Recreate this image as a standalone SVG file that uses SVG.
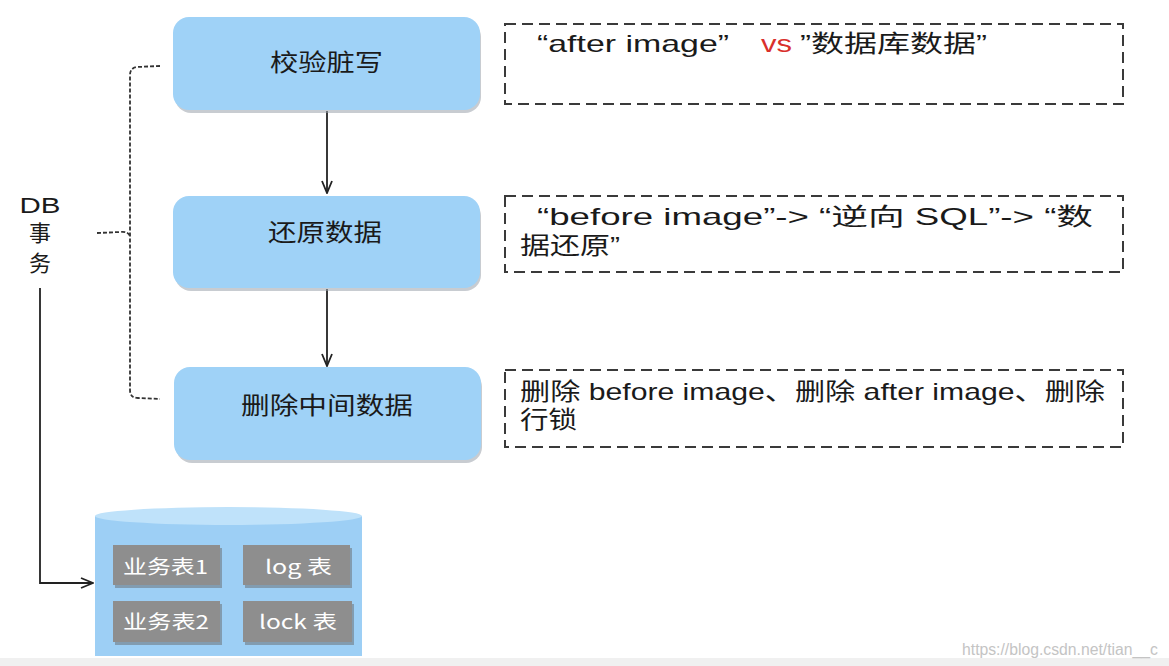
<svg xmlns="http://www.w3.org/2000/svg" width="1169" height="666" viewBox="0 0 1169 666">
<defs>
<style>
.node{fill:#9fd2f7;}
.shadow{fill:#9aa3ab;opacity:0.55;}
.ntext{font-family:"Noto Sans CJK SC","Liberation Sans",sans-serif;font-size:24px;fill:#1a1a1a;text-anchor:start;}
.note{fill:none;stroke:#3a3a3a;stroke-width:2;stroke-dasharray:11 6;}
.ttext{font-family:"Liberation Sans","Noto Sans CJK SC",sans-serif;font-size:24px;fill:#1a1a1a;}
.conn{fill:none;stroke:#222;stroke-width:1.8;}
.dash{fill:none;stroke:#333;stroke-width:1.8;stroke-dasharray:4 2;}
.tbl{fill:#8e8e8e;}
.tshadow{fill:#6f7a82;opacity:0.6;}
.wtext{font-family:"Noto Sans CJK SC","Liberation Sans",sans-serif;font-size:19px;fill:#ffffff;}
</style>
<marker id="arr" viewBox="0 0 14 12" refX="13" refY="6" markerWidth="14" markerHeight="12" markerUnits="userSpaceOnUse" orient="auto">
<path d="M1,1 L13,6 L1,11" fill="none" stroke="#222" stroke-width="1.8"/>
</marker>
</defs>
<rect x="0" y="0" width="1169" height="666" fill="#ffffff"/>
<rect x="0" y="658" width="1169" height="8" fill="#f0f0f0"/>

<g id="connectors">
<line class="conn" x1="327" y1="111" x2="327" y2="193" marker-end="url(#arr)"/>
<line class="conn" x1="327" y1="289" x2="327" y2="366" marker-end="url(#arr)"/>
<path class="conn" d="M40,288 L40,583 L93,583" marker-end="url(#arr)"/>
<path class="dash" d="M160,66 L137,67 Q130,68 130,75 L130,390 Q130,398 138,398 L160,399"/>
<path class="dash" d="M97,233 L120,232 Q128,231 130,236"/>
</g>

<g id="db-label">
<text x="40" y="213" font-family="Liberation Sans,sans-serif" font-size="22" fill="#1a1a1a" text-anchor="middle" textLength="41" lengthAdjust="spacingAndGlyphs">DB</text>
<text x="40" y="241" font-family="Noto Sans CJK SC,sans-serif" font-size="22" fill="#1a1a1a" text-anchor="middle">事</text>
<text x="40" y="271" font-family="Noto Sans CJK SC,sans-serif" font-size="22" fill="#1a1a1a" text-anchor="middle">务</text>
</g>

<g id="node-check">
<rect class="shadow" x="175" y="21" width="306" height="92" rx="16"/>
<rect class="node" x="173" y="17" width="307" height="93" rx="16"/>
<text class="ntext" x="270" y="71" textLength="113" lengthAdjust="spacingAndGlyphs">校验脏写</text>
</g>
<g id="node-restore">
<rect class="shadow" x="175" y="200" width="306" height="91" rx="16"/>
<rect class="node" x="173" y="196" width="307" height="92" rx="16"/>
<text class="ntext" x="268" y="241" textLength="114" lengthAdjust="spacingAndGlyphs">还原数据</text>
</g>
<g id="node-delete">
<rect class="shadow" x="176" y="371" width="306" height="92" rx="16"/>
<rect class="node" x="174" y="367" width="307" height="93" rx="16"/>
<text class="ntext" x="241" y="414" textLength="172" lengthAdjust="spacingAndGlyphs">删除中间数据</text>
</g>

<g id="note-check">
<rect class="note" x="505" y="24" width="618" height="80"/>
<text class="ttext" x="537" y="52" textLength="192" lengthAdjust="spacingAndGlyphs">“after  image”</text>
<text class="ttext" x="761" y="52" fill="#d9302c" style="fill:#d9302c" textLength="31" lengthAdjust="spacingAndGlyphs">vs</text>
<text class="ttext" x="800" y="52" textLength="187" lengthAdjust="spacingAndGlyphs">”数据库数据”</text>
</g>
<g id="note-restore">
<rect class="note" x="505" y="196" width="618" height="76"/>
<text class="ttext" x="537" y="225" textLength="556" lengthAdjust="spacingAndGlyphs">“before image”-&gt; “逆向 SQL”-&gt; “数</text>
<text class="ttext" x="520" y="254" textLength="100" lengthAdjust="spacingAndGlyphs">据还原”</text>
</g>
<g id="note-delete">
<rect class="note" x="505" y="370" width="618" height="77"/>
<text class="ttext" x="520" y="400" textLength="585" lengthAdjust="spacingAndGlyphs">删除 before image、删除 after image、删除</text>
<text class="ttext" x="520" y="428" textLength="57" lengthAdjust="spacingAndGlyphs">行锁</text>
</g>

<g id="database">
<path d="M95,516 L95,656 L362,656 L362,516 Z" fill="#9dcff5"/>
<ellipse cx="228.5" cy="516" rx="133.5" ry="9" fill="#bfe2fa"/>
<g id="tbl-biz1">
<rect class="tshadow" x="115" y="548" width="107" height="40"/>
<rect class="tbl" x="113" y="545" width="107" height="40"/>
<text class="wtext" x="123" y="574" textLength="85" lengthAdjust="spacingAndGlyphs">业务表1</text>
</g>
<g id="tbl-log">
<rect class="tshadow" x="245" y="548" width="107" height="40"/>
<rect class="tbl" x="243" y="545" width="107" height="40"/>
<text class="wtext" x="265" y="574" textLength="67" lengthAdjust="spacingAndGlyphs">log 表</text>
</g>
<g id="tbl-biz2">
<rect class="tshadow" x="115" y="604" width="107" height="41"/>
<rect class="tbl" x="113" y="601" width="107" height="41"/>
<text class="wtext" x="123" y="629" textLength="86" lengthAdjust="spacingAndGlyphs">业务表2</text>
</g>
<g id="tbl-lock">
<rect class="tshadow" x="245" y="604" width="109" height="41"/>
<rect class="tbl" x="243" y="601" width="109" height="41"/>
<text class="wtext" x="259" y="629" textLength="78" lengthAdjust="spacingAndGlyphs">lock 表</text>
</g>
</g>

<text x="962" y="655" font-family="Liberation Sans,sans-serif" font-size="16" fill="#c4c4c4" textLength="196" lengthAdjust="spacingAndGlyphs">https://blog.csdn.net/tian__c</text>
</svg>
